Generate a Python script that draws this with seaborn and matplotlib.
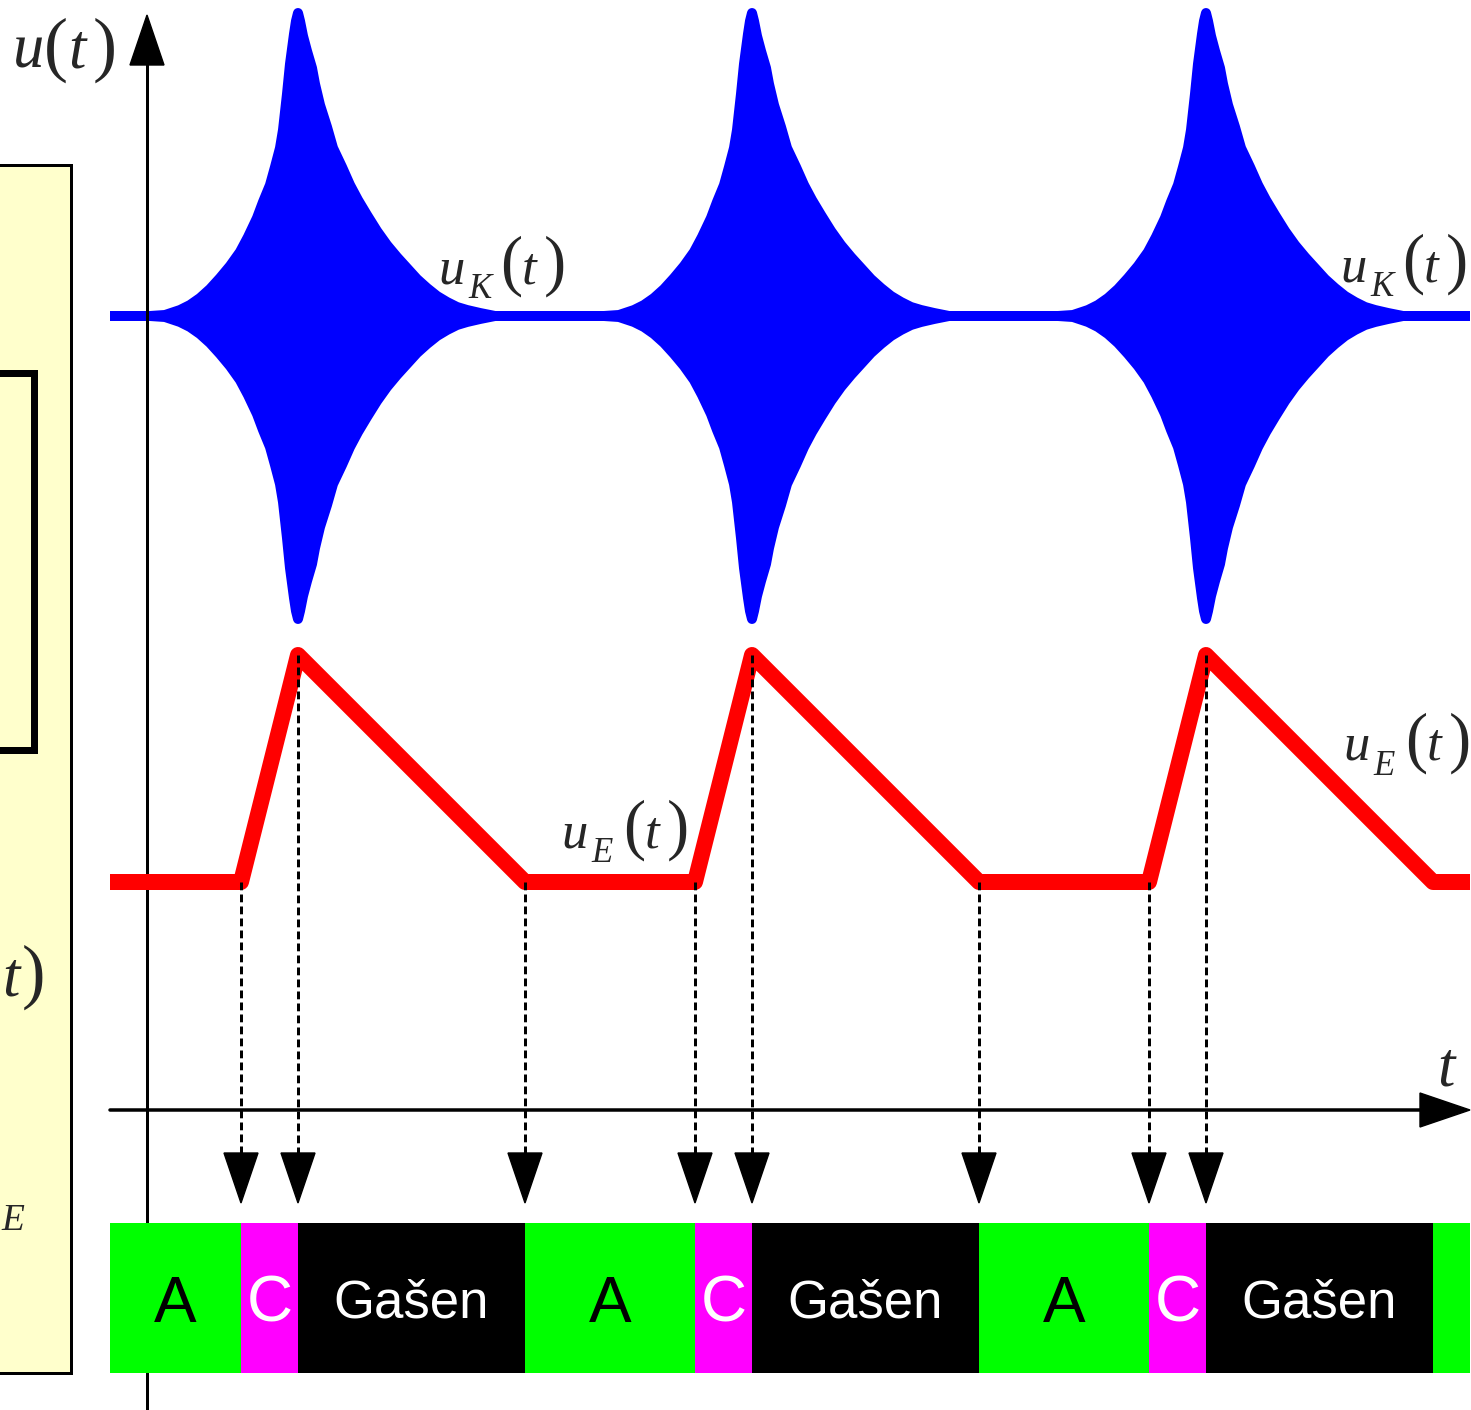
import numpy as np
import matplotlib
matplotlib.use("Agg")
import matplotlib.pyplot as plt
from matplotlib.patches import Rectangle
import seaborn as sns

sns.set_style("white")
plt.rcParams['font.family'] = ['Liberation Serif', 'DejaVu Serif']

# ---------------- data (time axis in drawing units, values in drawing units) -------------
t_start = [110, 1470]                    # visible time range
t_exc = [241, 695, 1149]                 # excitation (A -> C) instants
t_peak = [298, 752, 1206]                # oscillation peak (C -> Gašen)
t_end = [525, 979, 1433]                 # end of quenching (Gašen -> A)

uE_low = 882                             # u_E(t) resting level
uE_high = 655                            # u_E(t) peak level
uK_base = 316                            # u_K(t) centre line
t_axis_level = 1110                      # level of the t axis

# envelope of u_K(t) around each peak (offset from peak, half amplitude)
rise_dt = [-148, -133, -118, -108, -98, -88, -78, -68, -58, -50, -41, -35,
           -28, -23, -18, -15, -11, -8, -4, -2, 0]
rise_amp = [0, 1, 6, 11, 18, 27, 38, 50, 64, 79, 98, 114,
            131, 149, 168, 186, 222, 252, 282, 295, 303]
decay_dt = [0, 2, 5, 9, 14, 17, 22, 29, 35, 44, 52, 60, 69, 79, 89, 99, 109, 119,
            129, 139, 149, 159, 169, 182, 197]
decay_amp = [303, 295, 280, 265, 248, 232, 211, 189, 168, 149, 131, 116, 101, 85,
             71, 59, 48, 37, 28, 20, 14, 9, 6, 3, 0]

# u_E(t) polyline vertices
uE_t = [110, 241, 298, 525, 695, 752, 979, 1149, 1206, 1433, 1470]
uE_v = [882, 882, 655, 882, 882, 655, 882, 882, 655, 882, 882]

# instants marked by dashed arrows
arrow_t = [241, 298, 525, 695, 752, 979, 1149, 1206]
arrow_from = [882, 655, 882, 882, 655, 882, 882, 655]

# state bar
state_labels = ["A", "C", "Gašen", "A", "C", "Gašen", "A", "C", "Gašen", ""]
state_edges = [110, 241, 298, 525, 695, 752, 979, 1149, 1206, 1433, 1470]
state_colors = ["#00ff00", "#ff00ff", "#000000"] * 3 + ["#00ff00"]
state_text_colors = ["black", "white", "white"] * 3 + ["black"]
state_text_sizes = [46, 46, 38] * 3 + [46]

# ---------------- figure ----------------
W, H = 1471, 1410
fig = plt.figure(figsize=(W / 100, H / 100), dpi=100)
ax = fig.add_axes([0, 0, 1, 1])
ax.set_xlim(0, W)
ax.set_ylim(H, 0)
ax.axis("off")

PX = 0.72  # points per pixel

# left (cut-off) panel
ax.add_patch(Rectangle((-20, 165), 91, 1373 - 165, facecolor="#ffffcc",
                       edgecolor="black", lw=3 * PX, zorder=0))
ax.add_patch(Rectangle((-20, 373), 54, 750 - 373, facecolor="none",
                       edgecolor="black", lw=7 * PX, zorder=0.5))
ax.text(2, 995, "t", fontsize=45, style="italic", ha="left", va="baseline")
ax.text(22, 995, ")", fontsize=51, ha="left", va="baseline")
ax.text(1, 1230, "E", fontsize=27, style="italic", ha="left", va="baseline")

# u_K(t) : baseline + envelopes
blue = "#0000ff"
ax.plot(t_start, [uK_base, uK_base], color=blue, lw=10 * PX,
        solid_capstyle="butt", zorder=2)
for tp in t_peak:
    xs = np.concatenate([tp + np.array(rise_dt), tp + np.array(decay_dt[1:])])
    amp = np.concatenate([np.array(rise_amp), np.array(decay_amp[1:])])
    ax.fill_between(xs, uK_base - amp, uK_base + amp, color=blue, lw=0, zorder=2)
    ax.plot(xs, uK_base - amp, color=blue, lw=10 * PX, solid_capstyle="round",
            solid_joinstyle="round", zorder=2)
    ax.plot(xs, uK_base + amp, color=blue, lw=10 * PX, solid_capstyle="round",
            solid_joinstyle="round", zorder=2)

# u_E(t)
sns.lineplot(x=uE_t, y=uE_v, sort=False, estimator=None, color="#ff0000",
             lw=16 * PX, ax=ax, solid_joinstyle="round",
             solid_capstyle="butt", zorder=3)
ax.set_xlim(0, W)
ax.set_ylim(H, 0)
ax.axis("off")

# axes
ax.plot([147, 147], [H, 60], color="black", lw=3 * PX, zorder=2.5)
ax.fill([130, 164, 147], [65, 65, 15], color="black", zorder=2.5)
ax.plot([110, 1425], [t_axis_level] * 2, color="black", lw=3.5 * PX, zorder=2.5)
ax.fill([1420, 1420, 1470], [t_axis_level - 17, t_axis_level + 17, t_axis_level],
        color="black", zorder=2.5)

# dashed arrows
for x, y0 in zip(arrow_t, arrow_from):
    ax.plot([x, x], [y0, 1156], color="black", lw=3 * PX,
            linestyle=(0, (2.6, 1.4)), zorder=4)
    ax.fill([x - 17, x + 17, x], [1153, 1153, 1203], color="black", zorder=4)

# state bar
for i in range(len(state_labels)):
    l, r = state_edges[i], state_edges[i + 1]
    ax.barh(1298, r - l, left=l, height=150, color=state_colors[i],
            lw=0, zorder=5)
    if state_labels[i]:
        ax.text((l + r) / 2, 1298, state_labels[i], color=state_text_colors[i],
                fontsize=state_text_sizes[i], family="Liberation Sans",
                ha="center", va="center_baseline", zorder=6)


# math-like labels built from pieces
def label(x0, yb, sub=None, size=38, psize=48, scale=1.0):
    s = scale
    ax.text(x0, yb, "u", fontsize=size, style="italic", ha="left", va="baseline", zorder=7)
    if sub:
        ax.text(x0 + 30 * s, yb + 15 * s, sub, fontsize=size * 0.66, style="italic",
                ha="left", va="baseline", zorder=7)
        off = 34 * s
    else:
        off = 0
    ax.text(x0 + off + 28 * s, yb, "(", fontsize=psize, ha="left", va="baseline", zorder=7)
    ax.text(x0 + off + 50 * s, yb, "t", fontsize=size, style="italic", ha="left",
            va="baseline", zorder=7)
    ax.text(x0 + off + 72 * s, yb, ")", fontsize=psize, ha="left", va="baseline", zorder=7)


label(13, 68, None, size=45, psize=52, scale=1.1)
label(438, 283, "K")
label(1340, 281, "K")
label(561, 847, "E")
label(1343, 760, "E")
ax.text(1437, 1085, "t", fontsize=45, style="italic", ha="left", va="baseline")

fig.savefig("out.png", dpi=100)
